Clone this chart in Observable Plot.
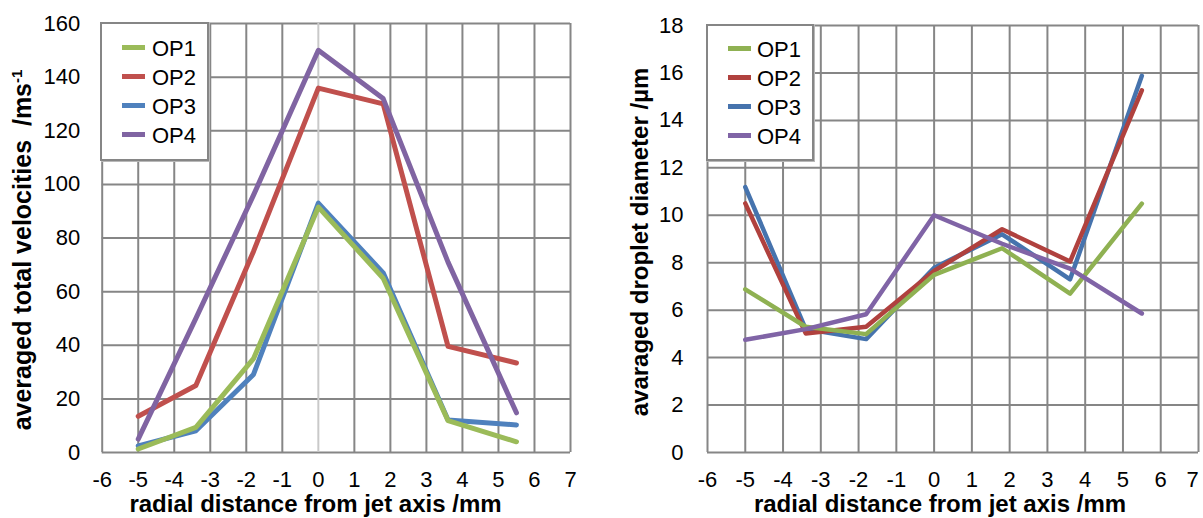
<!DOCTYPE html>
<html>
<head>
<meta charset="utf-8">
<script src="https://cdn.jsdelivr.net/npm/d3@7"></script>
<script src="https://cdn.jsdelivr.net/npm/@observablehq/plot@0.6"></script>
<style>
  body { margin: 0; background: #fff; }
  #wrap { position: relative; width: 1203px; height: 518px; overflow: hidden; font-family: "Liberation Sans", Arial, sans-serif; color: #000; }
  .panel { position: absolute; top: 0; }
  .xtitle { position: absolute; font-weight: bold; font-size: 24px; line-height: 20px; height: 20px; white-space: pre; transform: translateX(-50%); }
  .ytitle { position: absolute; font-weight: bold; white-space: pre; transform: translate(-50%, -50%) rotate(-90deg); line-height: 1; }
  .ytitle sup { font-size: 0.6em; vertical-align: 0.6em; line-height: 0; }
  .legend { position: absolute; background: #fff; border: 2px solid #868686; box-shadow: 1px 1px 0 #b8b8b8; box-sizing: border-box; }
  .item { position: absolute; height: 29px; line-height: 29px; font-size: 22px; white-space: nowrap; }
  .swatch { position: absolute; height: 5px; top: 12px; }
</style>
</head>
<body>
<div id="wrap">
  <div id="left" class="panel" style="left:0px"></div>
  <div id="right" class="panel" style="left:600px"></div>
</div>
<script>
// ---- data ----
const seriesNames = ["OP1", "OP2", "OP3", "OP4"];
const radialPositions = [-5, -3.4, -1.8, 0, 1.8, 3.6, 5.5];

const velocityOP1 = [1.3, 9.4, 35, 91.5, 65, 11.9, 4.0];
const velocityOP2 = [13.5, 25, 75, 135.9, 130, 39.6, 33.4];
const velocityOP3 = [2.5, 8.1, 29.1, 93, 67, 12.1, 10.3];
const velocityOP4 = [5.0, 50, 96, 150, 132, 71, 14.8];

const diameterOP1 = [6.88, 5.3, 4.99, 7.49, 8.61, 6.7, 10.49];
const diameterOP2 = [10.5, 5.02, 5.3, 7.65, 9.41, 8.05, 15.27];
const diameterOP3 = [11.19, 5.2, 4.78, 7.79, 9.2, 7.3, 15.88];
const diameterOP4 = [4.75, 5.2, 5.83, 10.0, 8.8, 7.75, 5.86];

const xTickValues = [-6, -5, -4, -3, -2, -1, 0, 1, 2, 3, 4, 5, 6, 7];
const velocityTicks = [0, 20, 40, 60, 80, 100, 120, 140, 160];
const diameterTicks = [0, 2, 4, 6, 8, 10, 12, 14, 16, 18];

const xTitle = "radial distance from jet axis /mm";
const leftYTitle = "averaged total velocities  /ms";
const leftYTitleSup = "-1";
const rightYTitle = "avaraged droplet diameter /µm";

// ---- styles ----
const FONT = '"Liberation Sans", Arial, sans-serif';
const GRID = "#868686";
const colorsLeft = {OP1: "#9BBB59", OP2: "#C0504D", OP3: "#4F81BD", OP4: "#8064A2"};
const colorsRight = {OP1: "#8FB152", OP2: "#B0413E", OP3: "#4673AD", OP4: "#8064A6"};

function rows(values) {
  return radialPositions.map((x, i) => ({x, y: values[i]}));
}
const velocity = {OP1: rows(velocityOP1), OP2: rows(velocityOP2), OP3: rows(velocityOP3), OP4: rows(velocityOP4)};
const diameter = {OP1: rows(diameterOP1), OP2: rows(diameterOP2), OP3: rows(diameterOP3), OP4: rows(diameterOP4)};

function seriesLines(data, colors, order, width) {
  return order.map(name => Plot.line(data[name], {
    x: "x", y: "y", stroke: colors[name], strokeWidth: width,
    strokeLinecap: "round", strokeLinejoin: "round"
  }));
}

// ---- left chart ----
const left = Plot.plot({
  width: 600, height: 518,
  marginLeft: 101.7, marginRight: 30, marginTop: 23, marginBottom: 66,
  x: {domain: [-6, 7]},
  y: {domain: [0, 160]},
  style: {fontFamily: FONT, fontSize: "22px", color: "#000", background: "none", overflow: "visible"},
  marks: [
    Plot.ruleY(velocityTicks, {stroke: GRID, strokeWidth: 2}),
    Plot.ruleX(xTickValues.filter(d => d !== 0), {stroke: GRID, strokeWidth: 2}),
    Plot.ruleX([0], {stroke: "#c9c9c9", strokeWidth: 2}),
    Plot.axisX({ticks: xTickValues, tickSize: 0, tickPadding: 19, tickFormat: d => String(d), label: null, fontSize: 22}),
    Plot.axisY({ticks: velocityTicks, tickSize: 0, tickPadding: 22, tickFormat: d => String(d), label: null, fontSize: 22}),
    ...seriesLines(velocity, colorsLeft, ["OP3", "OP1", "OP2", "OP4"], 5)
  ]
});
document.getElementById("left").appendChild(left);

// ---- right chart ----
const right = Plot.plot({
  width: 603, height: 518,
  marginLeft: 107, marginRight: 5, marginTop: 25, marginBottom: 66,
  x: {domain: [-6, 7]},
  y: {domain: [0, 18]},
  style: {fontFamily: FONT, fontSize: "22px", color: "#000", background: "none", overflow: "visible"},
  marks: [
    Plot.ruleY(diameterTicks, {stroke: GRID, strokeWidth: 2}),
    Plot.ruleX(xTickValues, {stroke: GRID, strokeWidth: 2}),
    Plot.axisX({ticks: xTickValues.slice(0, -1), tickSize: 0, tickPadding: 19, tickFormat: d => String(d), label: null, fontSize: 22}),
    Plot.axisX({ticks: xTickValues.slice(-1), tickSize: 0, tickPadding: 19, tickFormat: d => String(d), label: null, fontSize: 22, dx: -6}),
    Plot.axisY({ticks: diameterTicks, tickSize: 0, tickPadding: 24, tickFormat: d => String(d), label: null, fontSize: 22}),
    ...seriesLines(diameter, colorsRight, ["OP3", "OP2", "OP1", "OP4"], 4.5)
  ]
});
document.getElementById("right").appendChild(right);

// ---- titles ----
const wrap = document.getElementById("wrap");
function addXTitle(cx) {
  const d = document.createElement("div");
  d.className = "xtitle";
  d.style.left = cx + "px";
  d.style.top = "494px";
  d.textContent = xTitle;
  wrap.appendChild(d);
}
addXTitle(315.5);
addXTitle(940);

function addYTitle(cx, cy, size, text, sup) {
  const d = document.createElement("div");
  d.className = "ytitle";
  d.style.left = cx + "px";
  d.style.top = cy + "px";
  d.style.fontSize = size + "px";
  d.textContent = text;
  if (sup) {
    const s = document.createElement("sup");
    s.textContent = sup;
    d.appendChild(s);
  }
  wrap.appendChild(d);
}
addYTitle(22, 250, 25, leftYTitle, leftYTitleSup);
addYTitle(640, 241.5, 24, rightYTitle, null);

// ---- legends ----
function addLegend(box, swatchLeft, textLeft, firstCenter, colors) {
  const lg = document.createElement("div");
  lg.className = "legend";
  Object.assign(lg.style, {left: box.left + "px", top: box.top + "px", width: box.width + "px", height: box.height + "px"});
  wrap.appendChild(lg);
  seriesNames.forEach((name, i) => {
    const cy = firstCenter + i * 29;
    const sw = document.createElement("div");
    sw.className = "swatch";
    Object.assign(sw.style, {left: swatchLeft + "px", top: (cy - 2.5) + "px", width: "23px", background: colors[name]});
    wrap.appendChild(sw);
    const it = document.createElement("div");
    it.className = "item";
    Object.assign(it.style, {left: textLeft + "px", top: (cy - 14.5 + 1) + "px"});
    it.textContent = name;
    wrap.appendChild(it);
  });
}
addLegend({left: 100, top: 22, width: 109, height: 139}, 122, 152, 47, colorsLeft);
addLegend({left: 706, top: 24, width: 108, height: 137}, 728, 757, 48, colorsRight);
</script>
</body>
</html>
